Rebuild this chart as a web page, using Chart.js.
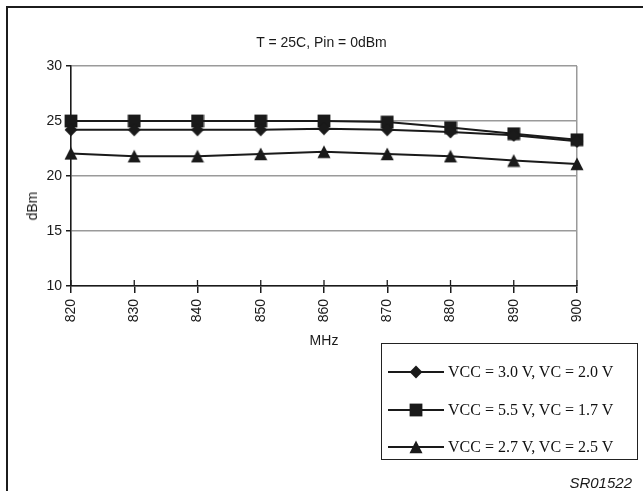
<!DOCTYPE html>
<html><head><meta charset="utf-8">
<script src="https://cdn.jsdelivr.net/npm/chart.js@4"></script>
<style>
html,body{margin:0;padding:0;background:#fff;}
#wrap{position:relative;width:643px;height:491px;overflow:hidden;background:#fff;}
#frame{position:absolute;left:6px;top:6px;width:700px;height:600px;border-left:2px solid #1c1c1c;border-top:2px solid #1c1c1c;}
#c{position:absolute;left:0;top:0;}
.txt{position:absolute;font-family:"Liberation Sans",Arial,sans-serif;color:#1a1a1a;white-space:nowrap;line-height:1;}
#title{left:0;width:643px;top:35px;text-align:center;font-size:14px;}
#ytitle{left:32px;top:206px;transform:translate(-50%,-50%) rotate(-90deg);font-size:14px;}
#code{right:11px;top:475px;font-size:15px;font-style:italic;}
#legend{position:absolute;left:381px;top:343px;width:255px;height:115px;border:1.5px solid #222;background:#fff;}
.item{position:absolute;left:0;height:18px;width:255px;font-family:"Liberation Serif","Times New Roman",serif;font-size:16px;color:#111;}
.item canvas{position:absolute;left:6px;top:1px;}
.item span{position:absolute;left:66px;top:1px;line-height:16px;}
</style>
</head>
<body>
<div id="wrap">
  <div id="frame"></div>
  <canvas id="c" width="643" height="491"></canvas>
  <div class="txt" id="title">T = 25C, Pin = 0dBm</div>
  <div class="txt" id="ytitle">dBm</div>
  <div class="txt" id="code">SR01522</div>
  <div id="legend"></div>
</div>
<script>
// ---- data ----
const frequencies = [820, 830, 840, 850, 860, 870, 880, 890, 900];
const yTickValues = [10, 15, 20, 25, 30];
const seriesNames = ["VCC = 3.0 V, VC = 2.0 V", "VCC = 5.5 V, VC = 1.7 V", "VCC = 2.7 V, VC = 2.5 V"];
const vcc30 = [24.2, 24.2, 24.2, 24.2, 24.3, 24.2, 24.0, 23.7, 23.15];
const vcc55 = [25.0, 25.0, 25.0, 25.0, 25.0, 24.9, 24.4, 23.85, 23.3];
const vcc27 = [22.05, 21.8, 21.8, 22.0, 22.2, 22.0, 21.8, 21.4, 21.1];
const xTitle = "MHz";

// ---- marker images ----
const INK = '#1a1a1a';
function marker(kind) {
  const c = document.createElement('canvas');
  const w = 14, h = 14;
  c.width = w; c.height = h;
  const g = c.getContext('2d');
  g.fillStyle = INK;
  g.beginPath();
  if (kind === 'diamond') {
    g.moveTo(7, 0.6); g.lineTo(13.4, 7); g.lineTo(7, 13.4); g.lineTo(0.6, 7);
  } else if (kind === 'square') {
    g.rect(0.6, 0.6, 12.8, 12.8);
  } else {
    g.moveTo(7, 0.6); g.lineTo(13.5, 13.2); g.lineTo(0.5, 13.2);
  }
  g.closePath();
  g.fill();
  return c;
}
const markers = [marker('diamond'), marker('square'), marker('triangle')];
const seriesValues = [vcc30, vcc55, vcc27];

const datasets = seriesValues.map((vals, i) => ({
  label: seriesNames[i],
  data: vals,
  borderColor: INK,
  backgroundColor: INK,
  borderWidth: 2,
  pointStyle: markers[i],
  pointRadius: 7,
  tension: 0,
  fill: false
}));

// ticks crossing above the x axis
const xCrossTicks = {
  id: 'xCrossTicks',
  beforeDatasetsDraw(chart) {
    const xs = chart.scales.x, ctx = chart.ctx;
    const yb = chart.chartArea.bottom;
    ctx.save();
    ctx.strokeStyle = INK; ctx.lineWidth = 1.3;
    xs.ticks.forEach((t, i) => {
      const px = xs.getPixelForTick(i);
      ctx.beginPath(); ctx.moveTo(px, yb - 6); ctx.lineTo(px, yb); ctx.stroke();
    });
    ctx.restore();
  }
};

const chart = new Chart(document.getElementById('c'), {
  type: 'line',
  data: { labels: frequencies.map(String), datasets },
  plugins: [xCrossTicks],
  options: {
    responsive: false,
    animation: false,
    devicePixelRatio: 1,
    layout: { padding: { left: 0, right: 66, top: 66, bottom: 0 } },
    plugins: { legend: { display: false }, title: { display: false }, tooltip: { enabled: false } },
    scales: {
      x: {
        type: 'category',
        offset: false,
        afterFit(s) { s.height = 205; },
        grid: {
          color: (ctx) => (ctx.index === frequencies.length - 1 ? '#9a9a9a' : 'rgba(0,0,0,0)'),
          lineWidth: 1.5,
          tickColor: INK,
          tickLength: 7,
          drawOnChartArea: true
        },
        border: { color: INK, width: 1.6 },
        ticks: {
          minRotation: 90, maxRotation: 90, autoSkip: false, padding: 6,
          color: INK, font: { family: 'Liberation Sans, Arial, sans-serif', size: 14 }
        },
        title: {
          display: true, text: xTitle, color: INK,
          font: { family: 'Liberation Sans, Arial, sans-serif', size: 14 },
          padding: { top: 0, bottom: 141 }
        }
      },
      y: {
        type: 'linear',
        min: 10, max: 30,
        afterFit(s) { s.width = 71; },
        afterBuildTicks(s) { s.ticks = yTickValues.map(v => ({ value: v })); },
        grid: { color: '#9a9a9a', lineWidth: 1.5, tickColor: INK, tickLength: 5 },
        border: { color: INK, width: 1.6 },
        ticks: {
          padding: 4, color: INK,
          font: { family: 'Liberation Sans, Arial, sans-serif', size: 14 }
        }
      }
    }
  }
});

// ---- HTML legend built from the chart's datasets ----
const legend = document.getElementById('legend');
const rowTops = [19, 57, 94];
chart.data.datasets.forEach((ds, i) => {
  const item = document.createElement('div');
  item.className = 'item';
  item.style.top = rowTops[i] + 'px';
  const cv = document.createElement('canvas');
  cv.width = 56; cv.height = 16;
  const g = cv.getContext('2d');
  g.strokeStyle = INK; g.lineWidth = 2;
  g.beginPath(); g.moveTo(0, 8); g.lineTo(56, 8); g.stroke();
  g.drawImage(ds.pointStyle, 28 - 7, 8 - 7);
  item.appendChild(cv);
  const sp = document.createElement('span');
  sp.textContent = ds.label;
  item.appendChild(sp);
  legend.appendChild(item);
});
</script>
</body></html>
